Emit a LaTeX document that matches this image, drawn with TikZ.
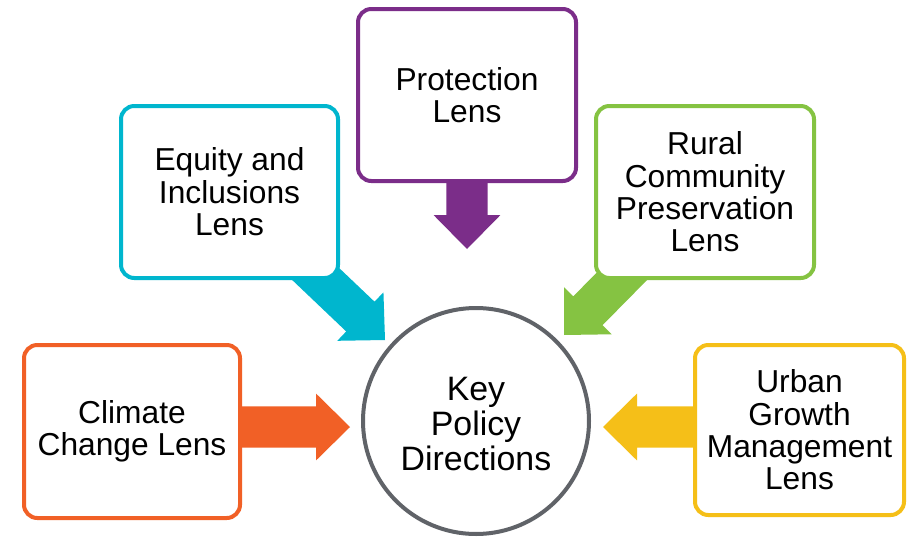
\documentclass[tikz,border=0pt]{standalone}
\usepackage{fontspec}
\setmainfont{Liberation Sans}
\usetikzlibrary{calc}
\definecolor{corange}{RGB}{241,96,38}
\definecolor{ccyan}{RGB}{0,182,206}
\definecolor{cpurple}{RGB}{123,45,137}
\definecolor{cgreen}{RGB}{133,195,66}
\definecolor{cyellow}{RGB}{245,191,24}
\definecolor{cgray}{RGB}{96,99,104}
\pgfdeclarelayer{background}
\pgfsetlayers{background,main}
% block arrow: colour, start, tip
\newcommand{\blockarrow}[3]{%
  \path ($(#3)!25.5pt!(#2)$) coordinate (hb);
  \fill[#1] ($(#2)!15.4pt!90:(#3)$) -- ($(hb)!15.4pt!90:(#3)$) -- ($(hb)!25.1pt!90:(#3)$) -- (#3)
    -- ($(hb)!25.1pt!-90:(#3)$) -- ($(hb)!15.4pt!-90:(#3)$) -- ($(#2)!15.4pt!-90:(#3)$) -- cycle;
}
\begin{document}
\begin{tikzpicture}[x=0.75pt,y=-0.75pt,
  lensbox/.style={draw=#1, line width=3pt, rounded corners=10pt, fill=white,
    align=center, inner sep=0pt, font=\fontsize{23.8pt}{24.3pt}\selectfont},
  keycircle/.style={circle, draw=cgray, line width=3pt, fill=white,
    inner sep=0pt, minimum size=169.5pt}]
\useasboundingbox (0,0) rectangle (907,539);

\node[lensbox=corange, minimum width=162pt, minimum height=129.75pt] (climate) at (132,431.5) {Climate\\Change Lens};
\node[lensbox=ccyan, minimum width=162.75pt, minimum height=129pt] (equity) at (229.5,192) {Equity and\\Inclusions\\Lens};
\node[lensbox=cpurple, minimum width=163.5pt, minimum height=129pt] (protection) at (467,95) {Protection\\Lens};
\node[lensbox=cgreen, minimum width=163.5pt, minimum height=129pt] (rural) at (705,192) {Rural\\Community\\Preservation\\Lens};
\node[lensbox=cyellow, minimum width=156.75pt, minimum height=127.5pt] (urban) at (799.5,430) {Urban\\Growth\\Management\\Lens};
\node[keycircle] (kpd) at (476,421) {};
\node[align=center, inner sep=0pt, font=\fontsize{25.4pt}{26.6pt}\selectfont] (kpdtext) at (476,424) {Key\\Policy\\Directions};

\coordinate (tipO) at (350,427);
\coordinate (tipC) at (385,340);
\coordinate (tipP) at (467,249);
\coordinate (tipG) at (564,335);
\coordinate (tipY) at (603,427);

\begin{pgfonlayer}{background}
  \fill[white] (0,0) rectangle (907,539);
  \blockarrow{corange}{climate.center |- tipO}{tipO}
  \blockarrow{ccyan}{equity.center}{tipC}
  \blockarrow{cpurple}{protection.center}{tipP}
  \blockarrow{cgreen}{rural.center}{tipG}
  \blockarrow{cyellow}{urban.center |- tipY}{tipY}
\end{pgfonlayer}
\end{tikzpicture}
\end{document}
